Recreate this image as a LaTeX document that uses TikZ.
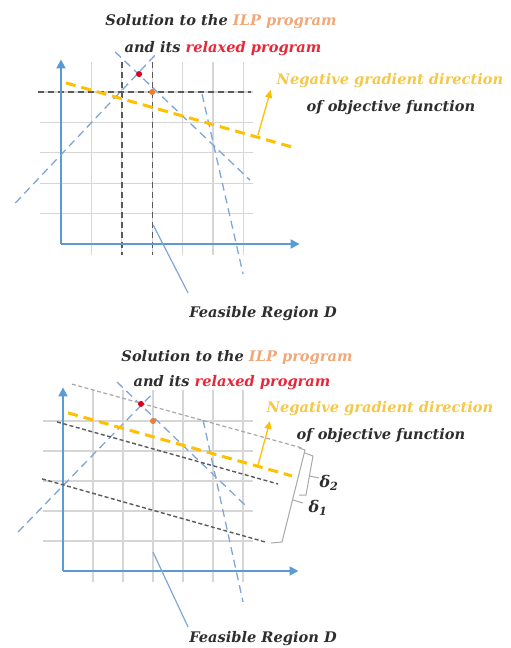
\documentclass[tikz,border=0pt]{standalone}
\usepackage{fontspec}
\setmainfont{DejaVu Serif}
\usetikzlibrary{arrows.meta}
\definecolor{txt}{HTML}{2E2E2E}
\definecolor{ilp}{HTML}{F0A878}
\definecolor{rel}{HTML}{E8283A}
\definecolor{neg}{HTML}{F5C84A}
\definecolor{axisblue}{HTML}{5B9BD5}
\definecolor{dblue}{HTML}{7FA6D6}
\definecolor{gridc}{HTML}{D6D6D6}
\definecolor{darkd}{HTML}{5A5A5A}
\definecolor{lightd}{HTML}{A8A8A8}
\definecolor{yel}{HTML}{FFC000}
\definecolor{odot}{HTML}{ED7D31}
\definecolor{rdot}{HTML}{E0001E}
\tikzset{
  lbl/.style={font=\bfseries\itshape\fontsize{14.6}{17}\selectfont, text=txt, inner sep=0pt},
  dlbl/.style={font=\bfseries\itshape\fontsize{16}{17}\selectfont, text=txt, inner sep=0pt},
  gridline/.style={draw=gridc, line width=1.1pt},
  axisline/.style={draw=axisblue, line width=1.8pt, -{Triangle[length=9pt,width=9pt]}},
  bluedash/.style={draw=dblue, line width=1.3pt, dash pattern=on 8pt off 5pt},
  darkdash/.style={draw=darkd, line width=1.4pt, dash pattern=on 6pt off 4pt},
  smalldark/.style={draw=darkd, line width=1.4pt, dash pattern=on 4pt off 2.5pt},
  smalllight/.style={draw=lightd, line width=1.2pt, dash pattern=on 4pt off 2.5pt},
  yeldash/.style={draw=yel, line width=3pt, dash pattern=on 10pt off 6pt},
  yelarrow/.style={draw=yel, line width=1.3pt, -{Triangle[length=8pt,width=7pt]}},
  feasline/.style={draw=dblue, line width=1.2pt},
  brk/.style={draw=lightd, line width=1pt},
}
\begin{document}
\begin{tikzpicture}[x=1pt,y=-1pt]
\useasboundingbox (0,0) rectangle (511,648);

% ================= TOP DIAGRAM =================
\begin{scope}[xshift=61pt,yshift=-244pt,x=30.4pt,y=30.4pt]
  \foreach \i in {1,...,6} \draw[gridline] (\i,-0.36) -- (\i,6.0);
  \foreach \j in {1,...,5} \draw[gridline] (-0.7,\j) -- (6.32,\j);
  \draw[darkdash] (2,6.0) -- (2,-0.36);
  \draw[darkdash] (3,6.0) -- (3,-0.36);
  \draw[darkdash] (-0.75,5) -- (6.25,5);
  \draw[axisline] (0,0) -- (0,6.07);
  \draw[axisline] (0,0) -- (7.85,0);
  \draw[bluedash] (-1.5,1.35) -- (3.16,6.28);
  \draw[bluedash] (1.78,6.32) -- (6.22,2.1);
  \draw[bluedash] (4.64,4.93) -- (5.99,-0.99);
  \draw[yeldash] (0.16,5.3) -- (7.6,3.19);
  \coordinate (ya1) at (6.48,3.59);
  \coordinate (yb1) at (6.9,5.07);
  \draw[yelarrow] (ya1) -- (yb1);
  \fill[rdot] (2.57,5.59) circle (0.1);
  \fill[odot] (3,5) circle (0.1);
  \coordinate (fa1) at (3.03,0.63);
  \coordinate (fb1) at (4.18,-1.61);
  \draw[feasline] (fa1) -- (fb1);
\end{scope}

\node[lbl] (s1) at (221,22) {Solution to the \textcolor{ilp}{ILP program}};
\node[lbl] (r1) at (223,49) {and its \textcolor{rel}{relaxed program}};
\node[lbl, text=neg] (n1) at (390,81) {Negative gradient direction};
\node[lbl] (o1) at (391,108) {of objective function};
\node[lbl] (f1) at (263,314) {Feasible Region D};

% ================= BOTTOM DIAGRAM =================
\begin{scope}[xshift=63pt,yshift=-571pt,x=30pt,y=30pt]
  \foreach \i in {1,...,6} \draw[gridline] (\i,-0.37) -- (\i,6.03);
  \foreach \j in {1,...,5} \draw[gridline] (-0.67,\j) -- (6.33,\j);
  \draw[axisline] (0,0) -- (0,6.12);
  \draw[axisline] (0,0) -- (7.85,0);
  \draw[bluedash] (-1.5,1.3) -- (3.0,5.93);
  \draw[bluedash] (1.8,6.3) -- (6.17,2.1);
  \draw[bluedash] (4.67,5.03) -- (6.0,-1.03);
  \draw[smalllight] (0.3,6.23) -- (7.97,4.1);
  \draw[smalldark] (-0.2,4.97) -- (7.17,2.9);
  \draw[smalldark] (-0.7,3.07) -- (6.73,0.97);
  \draw[yeldash] (0.17,5.27) -- (7.63,3.17);
  \coordinate (ya2) at (6.5,3.53);
  \coordinate (yb2) at (6.9,5.0);
  \draw[yelarrow] (ya2) -- (yb2);
  \fill[rdot] (2.6,5.57) circle (0.1);
  \fill[odot] (3,5) circle (0.1);
  \coordinate (fa2) at (3,0.63);
  \coordinate (fb2) at (4.17,-1.87);
  \draw[feasline] (fa2) -- (fb2);
\end{scope}

\node[lbl] (s2) at (237,358) {Solution to the \textcolor{ilp}{ILP program}};
\node[lbl] (r2) at (232,383) {and its \textcolor{rel}{relaxed program}};
\node[lbl, text=neg] (n2) at (380,409) {Negative gradient direction};
\node[lbl] (o2) at (381,436) {of objective function};
\node[lbl] (f2) at (263,639) {Feasible Region D};

% brackets
\draw[brk] (299,448) -- (305,450) -- (282,542) -- (271,543);
\draw[brk] (293,500) -- (303,503);
\draw[brk] (305,453) -- (313,456) -- (306,495) -- (299,495);
\draw[brk] (309.5,476) -- (319,478);
\node[dlbl] (d2) at (329,483) {δ\textsubscript{2}};
\node[dlbl] (d1) at (318,508) {δ\textsubscript{1}};
\end{tikzpicture}
\end{document}
